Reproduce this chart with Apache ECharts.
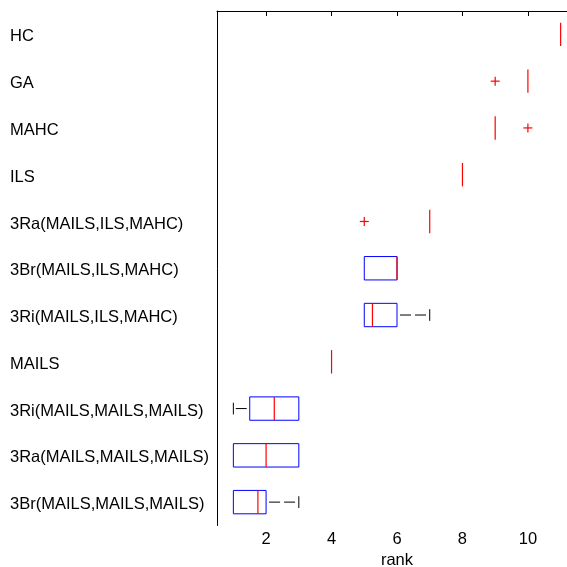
<!DOCTYPE html>
<html>
<head>
<meta charset="utf-8">
<title>rank boxplot</title>
<script src="https://cdn.jsdelivr.net/npm/echarts@6/dist/echarts.min.js"></script>
<style>
  html, body { margin: 0; padding: 0; background: #fff; }
  #chart { width: 567px; height: 567px; }
</style>
</head>
<body>
<div id="chart"></div>
<script>
// categories from top to bottom
const categories = [
  'HC', 'GA', 'MAHC', 'ILS',
  '3Ra(MAILS,ILS,MAHC)', '3Br(MAILS,ILS,MAHC)', '3Ri(MAILS,ILS,MAHC)',
  'MAILS',
  '3Ri(MAILS,MAILS,MAILS)', '3Ra(MAILS,MAILS,MAILS)', '3Br(MAILS,MAILS,MAILS)'
]
const lowWhisker = [11, 10, 9, 8, 7, 5, 5, 4, 1, 1, 1]
const q1 = [11, 10, 9, 8, 7, 5, 5, 4, 1.5, 1, 1]
const median = [11, 10, 9, 8, 7, 6, 5.25, 4, 2.25, 2, 1.75]
const q3 = [11, 10, 9, 8, 7, 6, 6, 4, 3, 3, 2]
const highWhisker = [11, 10, 9, 8, 7, 6, 7, 4, 3, 3, 3]
// outliers: [category, rank]
const outliers = [
  ['GA', 9],
  ['MAHC', 10],
  ['3Ra(MAILS,ILS,MAHC)', 5]
]
const xTicks = [2, 4, 6, 8, 10]

const FONT = '"Liberation Sans", Arial, sans-serif'

const boxData = categories.map((c, i) => [i, lowWhisker[i], q1[i], median[i], q3[i], highWhisker[i]])
const outlierData = outliers.map(o => [categories.indexOf(o[0]), o[1]])

function renderBox(params, api) {
  const ci = api.value(0)
  const y = api.coord([0, ci])[1]
  const lo = api.coord([api.value(1), ci])[0]
  const b1 = api.coord([api.value(2), ci])[0]
  const md = api.coord([api.value(3), ci])[0]
  const b3 = api.coord([api.value(4), ci])[0]
  const hi = api.coord([api.value(5), ci])[0]
  const h = api.size([0, 1])[1] * 0.5
  const c = h / 4
  const children = []
  const whisker = {
    stroke: '#000', lineWidth: 1, lineDash: [11, 4], lineDashOffset: 12
  }
  const cap = { stroke: '#000', lineWidth: 1 }
  if (hi > b3) {
    children.push({ type: 'line', shape: { x1: b3, y1: y, x2: hi, y2: y }, style: whisker })
    children.push({ type: 'line', shape: { x1: hi, y1: y - c, x2: hi, y2: y + c }, style: cap })
  }
  if (lo < b1) {
    children.push({ type: 'line', shape: { x1: b1, y1: y, x2: lo, y2: y }, style: whisker })
    children.push({ type: 'line', shape: { x1: lo, y1: y - c, x2: lo, y2: y + c }, style: cap })
  }
  // box
  if (b3 > b1) {
    children.push({
      type: 'rect',
      shape: { x: b1, y: y - h / 2, width: b3 - b1, height: h },
      style: { fill: 'none', stroke: '#0000ff', lineWidth: 1 }
    })
  }
  // median
  children.push({
    type: 'line',
    shape: { x1: md, y1: y - h / 2, x2: md, y2: y + h / 2 },
    style: { stroke: '#ff0000', lineWidth: 1.2 }
  })
  return { type: 'group', children: children }
}

function renderOutlier(params, api) {
  const p = api.coord([api.value(1), api.value(0)])
  const r = 4.5
  const st = { stroke: '#ff0000', lineWidth: 1.2 }
  return {
    type: 'group',
    children: [
      { type: 'line', shape: { x1: p[0] - r, y1: p[1], x2: p[0] + r, y2: p[1] }, style: st },
      { type: 'line', shape: { x1: p[0], y1: p[1] - r, x2: p[0], y2: p[1] + r }, style: st }
    ]
  }
}

const chart = echarts.init(document.getElementById('chart'))

chart.setOption({
  animation: false,
  backgroundColor: '#fff',
  grid: {
    left: 217,
    top: 11,
    width: 360,
    height: 514.5,
    containLabel: false,
    outerBoundsMode: 'none'
  },
  xAxis: [
    {
      type: 'value',
      min: 0.5,
      max: 11.5,
      position: 'bottom',
      name: 'rank',
      nameLocation: 'middle',
      nameGap: 26,
      nameTextStyle: { fontFamily: FONT, fontSize: 16.5, color: '#000' },
      axisLine: { lineStyle: { color: '#000', width: 1 } },
      axisTick: { inside: true, length: 5, customValues: xTicks, lineStyle: { color: '#000' } },
      axisLabel: { customValues: xTicks, margin: 5, fontFamily: FONT, fontSize: 16.5, color: '#000' },
      splitLine: { show: false }
    },
    {
      type: 'value',
      min: 0.5,
      max: 11.5,
      position: 'top',
      axisLine: { show: true, onZero: false, lineStyle: { color: '#000', width: 1 } },
      axisTick: { show: true, inside: true, length: 5, customValues: xTicks, lineStyle: { color: '#000' } },
      axisLabel: { show: false },
      splitLine: { show: false }
    }
  ],
  yAxis: {
    type: 'category',
    data: categories,
    inverse: true,
    axisLine: { lineStyle: { color: '#000', width: 1 } },
    axisTick: { show: false },
    axisLabel: {
      align: 'left',
      verticalAlign: 'top',
      lineHeight: 5,
      margin: 207,
      fontFamily: FONT,
      fontSize: 16.5,
      color: '#000'
    },
    splitLine: { show: false }
  },
  series: [
    {
      type: 'custom',
      renderItem: renderBox,
      data: boxData,
      encode: { y: 0, x: [1, 2, 3, 4, 5] },
      clip: false
    },
    {
      type: 'custom',
      renderItem: renderOutlier,
      data: outlierData,
      encode: { y: 0, x: 1 }
    }
  ]
})
</script>
</body>
</html>
